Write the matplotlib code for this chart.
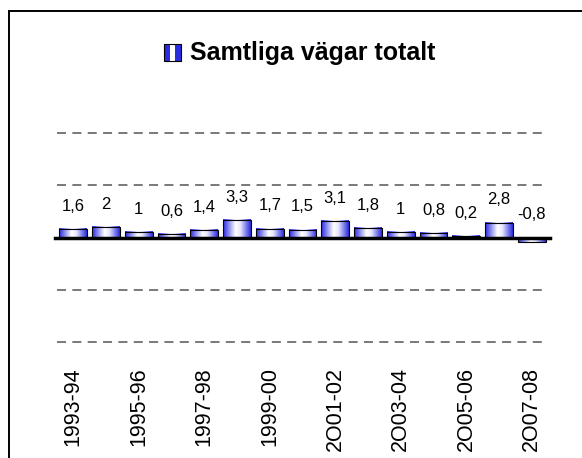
import numpy as np
import matplotlib
matplotlib.use('Agg')
from matplotlib import pyplot as plt
from matplotlib.patches import Rectangle
from matplotlib.colors import LinearSegmentedColormap
from matplotlib.legend_handler import HandlerBase

plt.rcParams['font.family'] = ['Liberation Sans', 'DejaVu Sans']

seasons = ['1993-94', '1994-95', '1995-96', '1996-97', '1997-98', '1998-99',
           '1999-00', '2000-01', '2O01-02', '2002-03', '2O03-04', '2004-05',
           '2O05-06', '2006-07', '2O07-08']
values = [1.6, 2, 1, 0.6, 1.4, 3.3, 1.7, 1.5, 3.1, 1.8, 1, 0.8, 0.2, 2.8, -0.8]
shown_ticks = ['1993-94', '1995-96', '1997-98', '1999-00',
               '2O01-02', '2O03-04', '2O05-06', '2O07-08']
grid_vals = [-20, -10, 10, 20]
title = 'Samtliga vägar totalt'

blue = '#2b2be0'
cmap = LinearSegmentedColormap.from_list('barfill', [(0, blue), (0.45, '#ffffff'), (0.62, '#e8e8ff'), (1, blue)])
grad = np.linspace(0, 1, 64).reshape(1, -1)

fig = plt.figure(figsize=(5.82, 4.58), dpi=100)
ax = fig.add_axes([57/582, 116/458, 491/582, 209/458])

x = np.arange(len(values))
w = 0.85
for xi, v in zip(x, values):
    lo, hi = min(v, 0), max(v, 0)
    ax.imshow(grad, cmap=cmap, aspect='auto', extent=[xi - w/2, xi + w/2, lo, hi],
              interpolation='bilinear', zorder=2)
ax.bar(x, values, width=w, facecolor='none', edgecolor='black', linewidth=0.8, zorder=3)

# data labels sit above the bar (or above zero for the negative one)
for xi, v in zip(x, values):
    lab = ('%g' % v).replace('.', ',')
    ax.annotate(lab, (xi, max(v, 0)), xytext=(0, 16.5), textcoords='offset points',
                ha='center', va='center', fontsize=12)

for g in grid_vals:
    ax.axhline(g, xmin=0, xmax=0.99, color='#6e6e6e', lw=1.3, dashes=(5, 3.5), clip_on=False, zorder=1)
ax.axhline(0, xmin=-0.004, xmax=1.004, color='black', lw=2.5, clip_on=False, zorder=4)

ax.set_xlim(-0.5, len(values) - 0.5)
ax.set_ylim(-20, 20)
ax.set_xticks([seasons.index(s) for s in shown_ticks])
ax.set_xticklabels(shown_ticks, rotation=90, fontsize=15.5)
ax.tick_params(axis='x', length=0, pad=18)
ax.set_yticks([])
for sp in ax.spines.values():
    sp.set_visible(False)


class StripeHandler(HandlerBase):
    def create_artists(self, legend, orig, xd, yd, width, height, fontsize, trans):
        s = height
        x0 = xd + (width - s) / 2
        parts = [Rectangle((x0, yd), s/3, s, facecolor=blue, lw=0, transform=trans),
                 Rectangle((x0 + s/3, yd), s/3, s, facecolor='white', lw=0, transform=trans),
                 Rectangle((x0 + 2*s/3, yd), s/3, s, facecolor=blue, lw=0, transform=trans),
                 Rectangle((x0, yd), s, s, facecolor='none', edgecolor='black', lw=0.8, transform=trans)]
        return parts


handle = Rectangle((0, 0), 1, 1)
fig.legend([handle], [title], handler_map={Rectangle: StripeHandler()},
           loc='center', bbox_to_anchor=(0.515, 0.884), frameon=False,
           prop={'size': 18, 'weight': 'bold'}, handlelength=0.65, handleheight=0.65,
           handletextpad=0.35)

fig.add_artist(Rectangle((9/582, -0.1), 1.2, (458 - 11)/458 + 0.1, transform=fig.transFigure,
                         facecolor='none', edgecolor='black', lw=1.4, clip_on=False))

fig.savefig('out.png', dpi=100)
